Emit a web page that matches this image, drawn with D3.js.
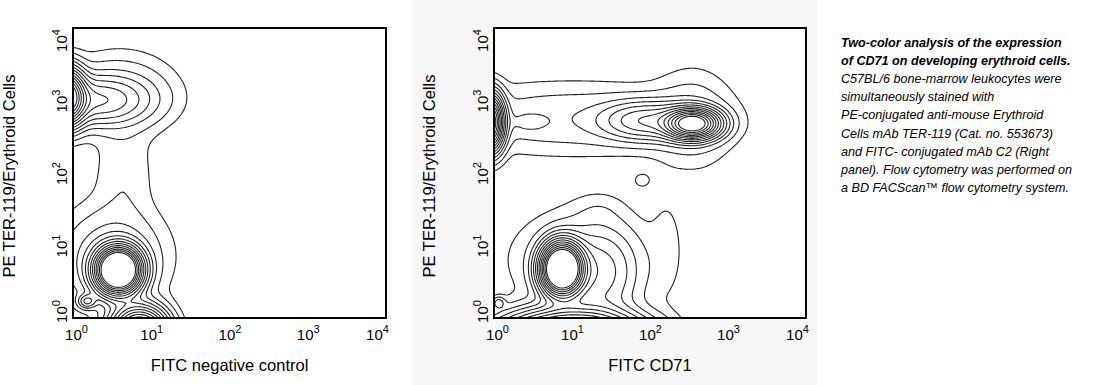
<!DOCTYPE html>
<html>
<head>
<meta charset="utf-8">
<script src="https://cdn.jsdelivr.net/npm/d3@7"></script>
<style>
  body { margin: 0; background: #fff; }
  svg { display: block; font-family: "Liberation Sans", Arial, sans-serif; }
</style>
</head>
<body>
<svg id="chart" width="1115" height="385"></svg>
<script>
// -------------------------------------------------------------------------
// Data (log10 decades)

const axisTicks = [1, 10, 100, 1000, 10000];
const yTitle = 'PE TER-119/Erythroid Cells';
const xTitles = ['FITC negative control', 'FITC CD71'];

// relative density at which each contour is drawn
const contourLevels = [0.01, 0.025, 0.05, 0.08, 0.12, 0.17, 0.23, 0.3, 0.38, 0.47, 0.57, 0.68, 0.8];

// left panel populations
const leftCenterX = [-0.08, 0.25, 0.6, 0.65, 0.58, 0.5, 0.18, 0.85];
const leftCenterY = [3.05, 3.0, 3.1, 2.0, 0.66, 0.85, 0.23, -0.2];
const leftSpreadX = [0.13, 0.42, 0.42, 0.24, 0.165, 0.4, 0.07, 0.2];
const leftSpreadY = [0.22, 0.2, 0.33, 0.45, 0.18, 0.4, 0.06, 0.2];
const leftWeight  = [1.0, 0.2, 0.055, 0.022, 1.8, 0.08, 0.12, 1.0];

// right panel populations
const rightCenterX = [-0.05, 0.45, 1.0, 2.55, 1.95, 2.55, 1.9, 0.87, 1.35, 1.1, 2.22, 1.35, 0.06, 1.0];
const rightCenterY = [2.7, 2.7, 2.75, 2.68, 2.72, 2.75, 1.9, 0.68, 0.6, 0.8, 1.0, 1.5, 0.21, -0.25];
const rightSpreadX = [0.1, 0.15, 1.1, 0.2, 0.35, 0.3, 0.065, 0.15, 0.3, 0.55, 0.14, 0.2, 0.05, 0.5];
const rightSpreadY = [0.22, 0.08, 0.3, 0.12, 0.16, 0.4, 0.06, 0.2, 0.4, 0.42, 0.5, 0.15, 0.05, 0.2];
const rightWeight  = [1.0, 0.03, 0.045, 1.0, 0.2, 0.04, 0.02, 1.8, 0.12, 0.04, 0.013, 0.01, 0.06, 1.0];

const caption = [
  {text: 'Two-color analysis of the expression', bold: true},
  {text: 'of CD71 on developing erythroid cells.', bold: true},
  {text: 'C57BL/6 bone-marrow leukocytes were'},
  {text: 'simultaneously stained with'},
  {text: 'PE-conjugated anti-mouse Erythroid'},
  {text: 'Cells mAb TER-119 (Cat. no. 553673)'},
  {text: 'and FITC- conjugated mAb C2 (Right'},
  {text: 'panel). Flow cytometry was performed on'},
  {text: 'a BD FACScan\u2122 flow cytometry system.'}
];

// -------------------------------------------------------------------------
// Layout

const svg = d3.select('#chart');

const panels = [
  {left: 73, right: 386, titleX: 10, bg: null,
    cx: leftCenterX, cy: leftCenterY, sx: leftSpreadX, sy: leftSpreadY, w: leftWeight},
  {left: 494, right: 806, titleX: 430, bg: [412, 817],
    cx: rightCenterX, cy: rightCenterY, sx: rightSpreadX, sy: rightSpreadY, w: rightWeight}
];
const plotTop = 28, plotBottom = 318;

// grid in log units, wider than the plot so edge closures get clipped
const g0 = -0.6, g1 = 4.2, n = 241, step = (g1 - g0) / (n - 1);

function densityGrid(p) {
  const values = new Float64Array(n * n);
  for (let j = 0; j < n; j++) {
    const v = g0 + j * step;
    for (let i = 0; i < n; i++) {
      const u = g0 + i * step;
      let s = 0;
      for (let k = 0; k < p.w.length; k++) {
        const du = (u - p.cx[k]) / p.sx[k];
        const dv = (v - p.cy[k]) / p.sy[k];
        s += p.w[k] * Math.exp(-0.5 * (du * du + dv * dv));
      }
      values[i + j * n] = s;
    }
  }
  return values;
}

function tenPower(sel) {
  sel.each(function(d) {
    const t = d3.select(this);
    t.text('10');
    t.append('tspan')
      .attr('font-size', 11)
      .attr('dy', -7)
      .text(Math.round(Math.log10(d)));
  });
}

panels.forEach(function(p, idx) {
  if (p.bg) {
    svg.append('rect')
      .attr('x', p.bg[0]).attr('y', 0)
      .attr('width', p.bg[1] - p.bg[0]).attr('height', 385)
      .attr('fill', '#f7f7f7');
  }

  const x = d3.scaleLog().domain([1, 1e4]).range([p.left, p.right]);
  const y = d3.scaleLog().domain([1, 1e4]).range([plotBottom, plotTop]);

  svg.append('rect')
    .attr('x', p.left).attr('y', plotTop)
    .attr('width', p.right - p.left).attr('height', plotBottom - plotTop)
    .attr('fill', '#fff');

  const clipId = 'clip' + idx;
  svg.append('clipPath').attr('id', clipId)
    .append('rect')
    .attr('x', p.left).attr('y', plotTop)
    .attr('width', p.right - p.left).attr('height', plotBottom - plotTop);

  const contours = d3.contours()
    .size([n, n])
    .thresholds(contourLevels)(densityGrid(p));

  const proj = d3.geoTransform({
    point: function(gx, gy) {
      const u = g0 + (gx - 0.5) * step;
      const v = g0 + (gy - 0.5) * step;
      this.stream.point(x(Math.pow(10, u)), y(Math.pow(10, v)));
    }
  });

  svg.append('g')
    .attr('clip-path', 'url(#' + clipId + ')')
    .selectAll('path')
    .data(contours)
    .join('path')
    .attr('d', d3.geoPath(proj))
    .attr('fill', 'none')
    .attr('stroke', '#222')
    .attr('stroke-width', 1.1);

  svg.append('rect')
    .attr('x', p.left).attr('y', plotTop)
    .attr('width', p.right - p.left).attr('height', plotBottom - plotTop)
    .attr('fill', 'none')
    .attr('stroke', '#000')
    .attr('stroke-width', 2);

  // x axis
  const gx = svg.append('g')
    .attr('transform', `translate(0,${plotBottom})`)
    .call(d3.axisBottom(x).tickValues(axisTicks).tickSize(0));
  gx.select('.domain').remove();
  gx.selectAll('text')
    .attr('y', 22).attr('dy', 0)
    .attr('font-size', 15).attr('fill', '#000')
    .attr('x', (d, i) => i === 0 ? 3 : (i === axisTicks.length - 1 ? -9 : 0))
    .call(tenPower);
  gx.attr('font-family', null);

  // y axis, labels read upward
  const gy = svg.append('g')
    .attr('transform', `translate(${p.left},0)`)
    .call(d3.axisLeft(y).tickValues(axisTicks).tickSize(0));
  gy.select('.domain').remove();
  gy.selectAll('text')
    .attr('transform', 'rotate(-90)')
    .attr('text-anchor', 'middle')
    .attr('x', (d, i) => i === 0 ? 7 : (i === axisTicks.length - 1 ? -12 : 0))
    .attr('y', -6).attr('dy', 0)
    .attr('font-size', 15).attr('fill', '#000')
    .call(tenPower);
  gy.attr('font-family', null);

  // titles
  svg.append('text')
    .attr('x', (p.left + p.right) / 2).attr('y', 371)
    .attr('text-anchor', 'middle')
    .attr('font-size', 16.5)
    .text(xTitles[idx]);

  svg.append('text')
    .attr('transform', `translate(${p.titleX + 5},176) rotate(-90)`)
    .attr('text-anchor', 'middle')
    .attr('font-size', 16.5)
    .text(yTitle);
});

// -------------------------------------------------------------------------
// Caption

svg.append('g')
  .selectAll('text')
  .data(caption)
  .join('text')
  .attr('x', 841)
  .attr('y', (d, i) => 47 + i * 18.1)
  .attr('font-size', 12.6)
  .attr('font-style', 'italic')
  .attr('font-weight', d => d.bold ? 'bold' : null)
  .attr('fill', '#000')
  .text(d => d.text);
</script>
</body>
</html>
